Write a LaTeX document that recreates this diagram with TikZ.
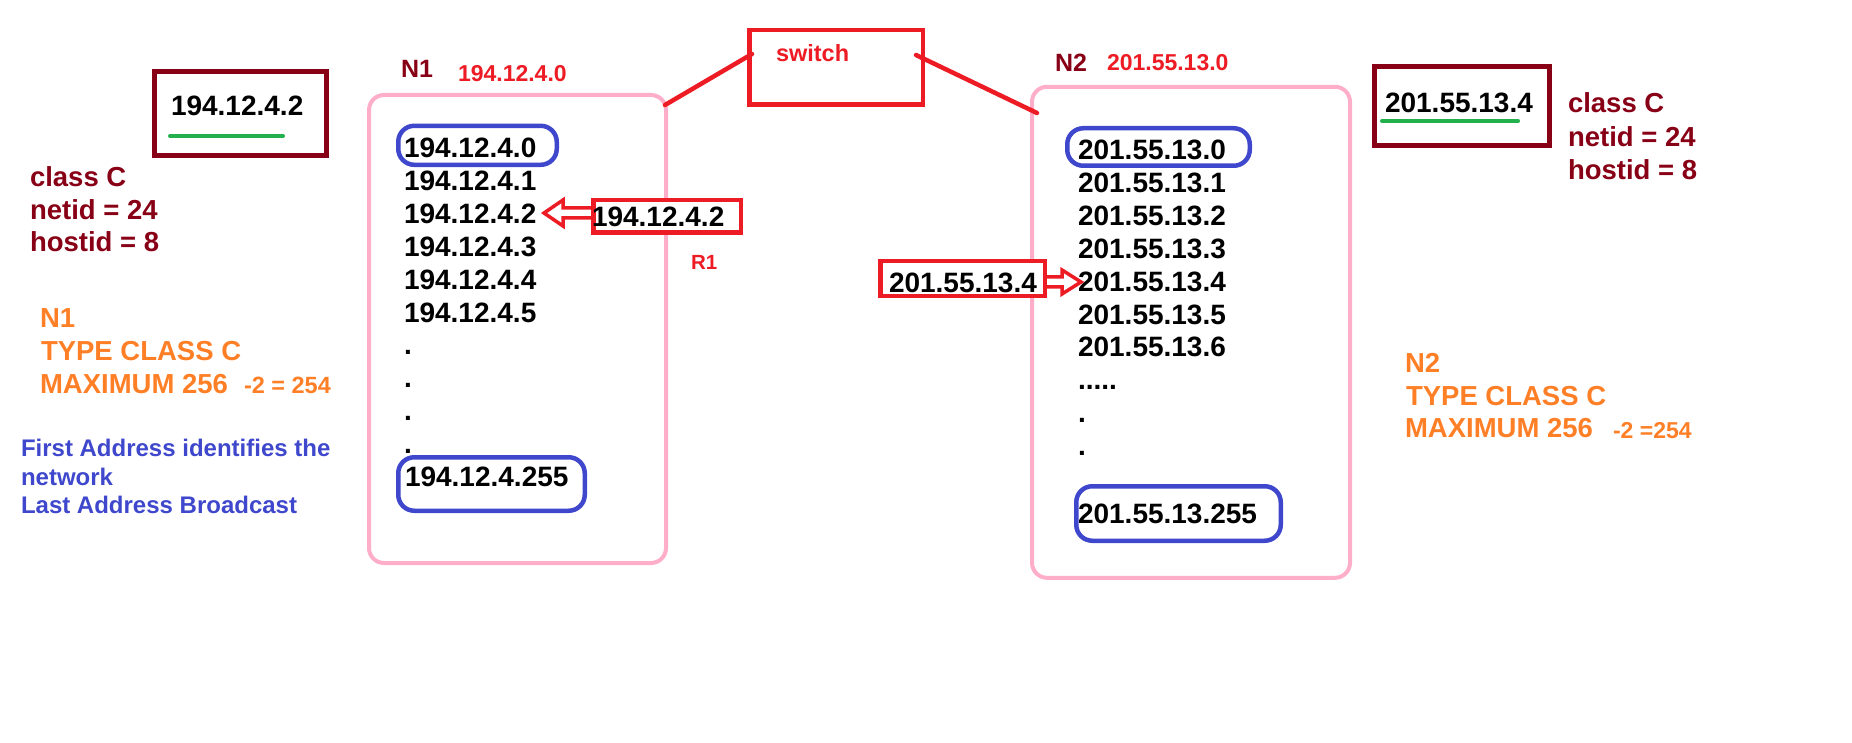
\documentclass[tikz,border=0pt]{standalone}
\usepackage{fontspec}
\setmainfont{Liberation Sans}
\definecolor{dred}{RGB}{136,0,21}
\definecolor{pred}{RGB}{237,28,36}
\definecolor{porange}{RGB}{255,127,39}
\definecolor{pindigo}{RGB}{63,72,204}
\definecolor{ppink}{RGB}{255,174,201}
\definecolor{pgreen}{RGB}{34,177,76}
\tikzset{
  txt/.style={anchor=base west, inner sep=0pt, outer sep=0pt, font=\bfseries\fontsize{#1}{#1}\selectfont},
  txt/.default=28,
  boxnode/.style={rectangle, inner sep=0pt, outer sep=0pt},
  pinkbox/.style={boxnode, draw=ppink, line width=4, rounded corners=15},
  bluebox/.style={boxnode, draw=pindigo, fill=white, line width=4.5, rounded corners=16},
  redbox/.style={boxnode, draw=pred, fill=white, line width=4.5},
  darkbox/.style={boxnode, draw=dred, line width=5},
  wire/.style={pred, line width=4.5, line cap=round},
  hollowarrow/.style={pred, line width=3.5, line join=miter},
  uline/.style={pgreen, line width=4, line cap=round}
}
\begin{document}
\begin{tikzpicture}[x=1pt,y=-1pt]
\useasboundingbox (0,0) rectangle (1852,743);

% ---------- network boxes ----------
\node[pinkbox, minimum width=297, minimum height=468] (n1box) at (517.5,329) {};
\node[pinkbox, minimum width=318, minimum height=491] (n2box) at (1191,332.3) {};

% ---------- switch ----------
\node[boxnode, draw=pred, line width=4.5, minimum width=173.5, minimum height=74.5] (switch) at (836,67.5) {};
\node[txt=23.5, text=pred] (switchlbl) at (776,62) {switch};
\coordinate (s1a) at (665,105); \coordinate (s1b) at (752,54);
\coordinate (s2a) at (916,55);  \coordinate (s2b) at (1037,113);
\draw[wire] (s1a) -- (s1b);
\draw[wire] (s2a) -- (s2b);

% ---------- labels over boxes ----------
\node[txt=25, text=dred] (n1lbl) at (401,78) {N1};
\node[txt=23, text=pred] (n1ip) at (458,82) {194.12.4.0};
\node[txt=25, text=dred] (n2lbl) at (1055,72) {N2};
\node[txt=23, text=pred] (n2ip) at (1107,71) {201.55.13.0};

% ---------- N1 list ----------
\foreach \t [count=\i from 0] in {{194.12.4.0},{194.12.4.1},{194.12.4.2},{194.12.4.3},{194.12.4.4},{194.12.4.5},{.},{.},{.},{.}}
  \node[txt] (a\i) at (404,157.5+32.9*\i) {\t};
\node[bluebox, minimum width=158.5, minimum height=39] (a0ring) at (477.5,145.3) {};
\node[bluebox, minimum width=186.5, minimum height=53.5] (a10ring) at (491.5,484) {};
\node[txt] (a0t) at (404,157.5) {194.12.4.0};
\node[txt] (a10) at (405,486.5) {194.12.4.255};

% ---------- N2 list ----------
\foreach \t [count=\i from 0] in {{201.55.13.0},{201.55.13.1},{201.55.13.2},{201.55.13.3},{201.55.13.4},{201.55.13.5},{201.55.13.6},{{.....}},{.},{.}}
  \node[txt] (b\i) at (1078,160+32.8*\i) {\t};
\node[bluebox, minimum width=182.5, minimum height=37.5] (b0ring) at (1158.5,147) {};
\node[bluebox, minimum width=204.5, minimum height=54.5] (b10ring) at (1178.5,513.5) {};
\node[txt] (b0t) at (1078,160) {201.55.13.0};
\node[txt] (b10) at (1078,523) {201.55.13.255};

% ---------- R1 ----------
\node[redbox, minimum width=147.5, minimum height=32.5] (r1box) at (667,216.5) {};
\node[txt] (r1ip) at (592,227) {194.12.4.2};
\node[txt=20.5, text=pred] (r1lbl) at (691,270) {R1};
\draw[hollowarrow] (591,208) -- (563,208) -- (563,200) -- (544,213) -- (563,226) -- (563,218) -- (591,218);

% ---------- host in N2 ----------
\node[redbox, minimum width=164.5, minimum height=35] (h2box) at (962.5,278.3) {};
\node[txt] (h2ip) at (889,292) {201.55.13.4};
\draw[hollowarrow] (1046,277) -- (1062,277) -- (1062,270) -- (1081,282) -- (1062,294) -- (1062,287) -- (1046,287);

% ---------- left host ----------
\node[darkbox, minimum width=172, minimum height=84] (hostA) at (240.5,113.5) {};
\node[txt] (hostAip) at (171,116) {194.12.4.2};
\coordinate (ulA1) at (170,136); \coordinate (ulA2) at (283,136);
\draw[uline] (ulA1) -- (ulA2);

\node[txt=27.5, text=dred] (cA1) at (30,187) {class C};
\node[txt=27.5, text=dred] (cA2) at (30,220) {netid = 24};
\node[txt=27.5, text=dred] (cA3) at (30,252) {hostid = 8};

\node[txt=27.5, text=porange] (oA1) at (40,327) {N1};
\node[txt=27.5, text=porange] (oA2) at (41,360) {TYPE CLASS C};
\node[txt=27.5, text=porange] (oA3) at (40,393) {MAXIMUM 256};
\node[txt=23.5, text=porange] (oA4) at (244,393) {-2 = 254};

\node[txt=24, text=pindigo] (fA1) at (21,456) {First Address identifies the};
\node[txt=24, text=pindigo] (fA2) at (21,485) {network};
\node[txt=24, text=pindigo] (fA3) at (21,513) {Last Address Broadcast};

% ---------- right host ----------
\node[darkbox, minimum width=175, minimum height=79] (hostB) at (1462,106) {};
\node[txt] (hostBip) at (1385,113) {201.55.13.4};
\coordinate (ulB1) at (1382,121); \coordinate (ulB2) at (1518,121);
\draw[uline] (ulB1) -- (ulB2);

\node[txt=27.5, text=dred] (cB1) at (1568,113) {class C};
\node[txt=27.5, text=dred] (cB2) at (1568,147) {netid = 24};
\node[txt=27.5, text=dred] (cB3) at (1568,180) {hostid = 8};

\node[txt=27.5, text=porange] (oB1) at (1405,372) {N2};
\node[txt=27.5, text=porange] (oB2) at (1406,405) {TYPE CLASS C};
\node[txt=27.5, text=porange] (oB3) at (1405,437) {MAXIMUM 256};
\node[txt=23, text=porange] (oB4) at (1613,438) {-2 =254};
\end{tikzpicture}
\end{document}
